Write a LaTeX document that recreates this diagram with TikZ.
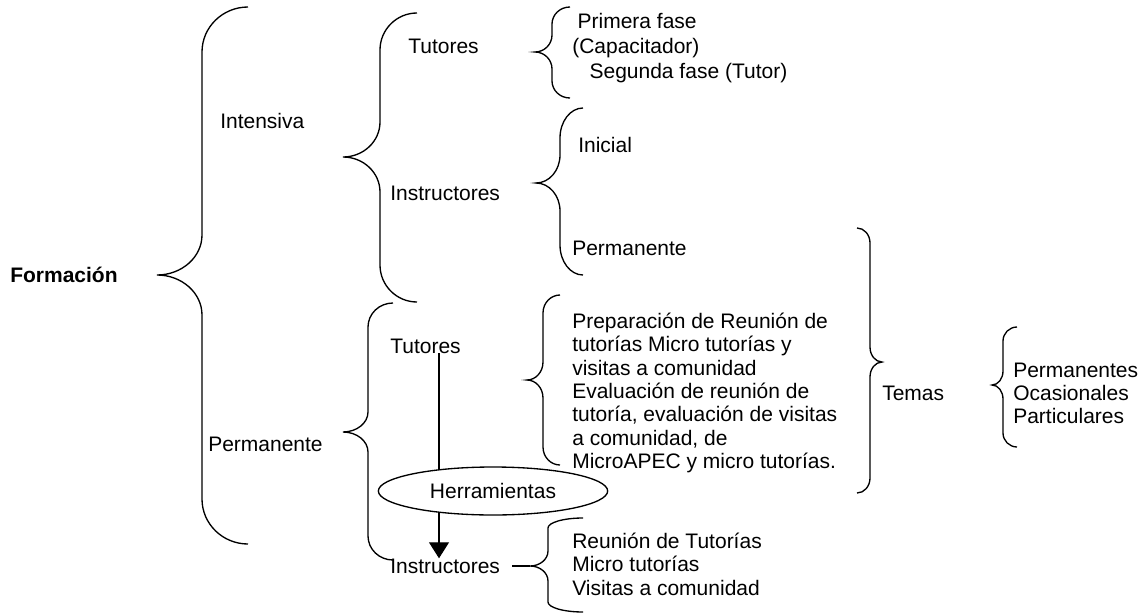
\documentclass[tikz,border=0pt]{standalone}
\usepackage{fontspec}
\setmainfont{Liberation Sans}
\usetikzlibrary{arrows.meta,shapes,positioning}

% brace: tip x, line x, end x, top y, tip y, bottom y, end radius, tip radius
\newcommand{\wbrace}[8]{%
  \draw[brace] (#3,#4)
    .. controls ({#2+0.448*(#3-#2)},#4) and (#2,{#4+0.448*#7}) .. (#2,{#4+#7})
    -- (#2,{#5-#8})
    .. controls (#2,{#5-0.448*#8}) and ({#1+0.552*(#2-#1)},#5) .. (#1,#5)
    .. controls ({#1+0.552*(#2-#1)},#5) and (#2,{#5+0.448*#8}) .. (#2,{#5+#8})
    -- (#2,{#6-#7})
    .. controls (#2,{#6-0.448*#7}) and ({#2+0.448*(#3-#2)},#6) .. (#3,#6);}

\begin{document}
\begin{tikzpicture}[
    x=0.75pt, y=-0.75pt,
    txt/.style={font=\fontsize{15.75}{17.7}\selectfont, inner sep=0pt, anchor=base west, align=left},
    brace/.style={line width=1pt},
    tool/.style={ellipse, draw, line width=1pt, fill=white, minimum width=172pt, minimum height=36pt, inner sep=0pt, font=\fontsize{15.75}{17.7}\selectfont},
    link/.style={-{Triangle[length=12pt,width=15pt]}, line width=0.8pt}
]
\useasboundingbox (0,0) rectangle (1142,614);

% Nodes (multi-line ones sit on their last line)
\node[txt, font=\fontsize{15.75}{17.7}\selectfont\bfseries] (form) at (10,282) {Formación};
\node[txt] (intens) at (220,128) {Intensiva};
\node[txt] (perm1) at (208,451) {Permanente};

\node[txt] (tut1) at (408,53) {Tutores};
\node[txt] (ins1) at (390,200) {Instructores};
\node[txt] (tut2) at (390,353) {Tutores};
\node[txt] (ins2) at (390,573) {Instructores};

\node[txt, font=\fontsize{15.75}{18.7}\selectfont] (fases) at (572,78.5) {\hspace*{4pt}Primera fase\\(Capacitador)\\\hspace*{13pt}Segunda fase (Tutor)};
\node[txt] (ini) at (578,152) {Inicial};
\node[txt] (perm2) at (572,255) {Permanente};
\node[txt, font=\fontsize{15.75}{17.5}\selectfont] (prep) at (572,468.5) {Preparación de Reunión de\\tutorías Micro tutorías y\\visitas a comunidad\\Evaluación de reunión de\\tutoría, evaluación de visitas\\a comunidad, de\\MicroAPEC y micro tutorías.};
\node[txt] (reun) at (572,595.5) {Reunión de Tutorías\\Micro tutorías\\Visitas a comunidad};
\node[txt] (temas) at (882,400) {Temas};
\node[txt, font=\fontsize{15.75}{17.3}\selectfont] (tipos) at (1013,423.5) {Permanentes\\Ocasionales\\Particulares};

% Braces
\wbrace{157}{202}{248}{7}{275}{544}{45}{40}
\wbrace{343}{380}{417}{13}{157}{302}{37}{35}
\wbrace{535}{552}{570}{7}{52}{98}{17}{17}
\wbrace{536}{560}{583}{108}{183}{275}{30}{28}
\wbrace{343}{368}{393}{303}{432}{560}{24}{20}
\wbrace{527}{543}{560}{295}{380}{465}{18}{18}
\wbrace{530}{548}{583}{518}{566}{612}{10}{15}
\wbrace{882}{870}{857}{228}{362}{493}{15}{15}
\wbrace{992}{1003}{1017}{327}{385}{447}{14}{14}
\draw[brace] (512,566) -- (530,566);

% Arrows
\coordinate (toolx) at (439,0);
\draw[link] (tut2.south -| toolx) -- (ins2.north -| toolx);
\node[tool, text depth=-4pt] (tools) at (493,491) {Herramientas};

\end{tikzpicture}
\end{document}
